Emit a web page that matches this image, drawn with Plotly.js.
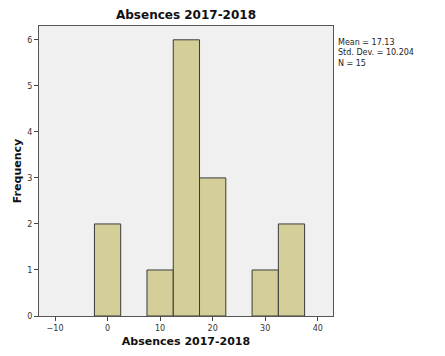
<!DOCTYPE html>
<html><head><meta charset="utf-8">
<script src="https://cdn.plot.ly/plotly-3.0.1.min.js"></script>
<style>body{margin:0;background:#fff}#chart{width:445px;height:356px}</style>
</head><body><div id="chart"></div>
<script>
const binCenters = [0, 10, 15, 20, 30, 35];
const counts = [2, 1, 6, 3, 1, 2];
const binWidth = 5;
const xTicks = [-10, 0, 10, 20, 30, 40];
const yTicks = [0, 1, 2, 3, 4, 5, 6];
const stats = ["Mean = 17.13", "Std. Dev. = 10.204", "N = 15"];

const trace = {
  type: 'bar', x: binCenters, y: counts,
  width: binCenters.map(() => binWidth),
  marker: {color: '#D4CF98', line: {color: '#3a3a3a', width: 1}},
  hoverinfo: 'none'
};
const layout = {
  width: 445, height: 356,
  margin: {l: 39, r: 112, t: 26, b: 40},
  paper_bgcolor: '#ffffff', plot_bgcolor: '#F0F0F0',
  font: {family: 'DejaVu Sans, sans-serif', size: 8, color: '#222'},
  title: {text: '<b>Absences 2017-2018</b>', font: {size: 12, color: '#111'}, x: 0.5, xref: 'paper', y: 1, yref: 'container', yanchor: 'top', pad: {t: 11}},
  xaxis: {range: [-13.05, 42.9], tickvals: xTicks, ticks: 'outside', ticklen: 4, tickcolor: '#444',
    showgrid: false, zeroline: false, showline: true, linecolor: '#555', linewidth: 1, mirror: true,
    tickfont: {size: 8, color: '#333'},
    title: {text: '<b>Absences 2017-2018</b>', font: {size: 11, color: '#111'}, standoff: 5}},
  yaxis: {range: [0, 6.3], tickvals: yTicks, ticks: 'outside', ticklen: 4, tickcolor: '#444',
    showgrid: false, zeroline: false, showline: true, linecolor: '#555', linewidth: 1, mirror: true,
    tickfont: {size: 8, color: '#333'},
    title: {text: '<b>Frequency</b>', font: {size: 11, color: '#111'}, standoff: 3}},
  annotations: [{xref: 'paper', yref: 'paper', x: 1.01, y: 0.965, xanchor: 'left', yanchor: 'top', align: 'left',
    text: stats.join('<br>'), showarrow: false, font: {size: 8, color: '#222'}}],
  showlegend: false, bargap: 0
};
Plotly.newPlot('chart', [trace], layout, {staticPlot: true, displayModeBar: false});
</script></body></html>
